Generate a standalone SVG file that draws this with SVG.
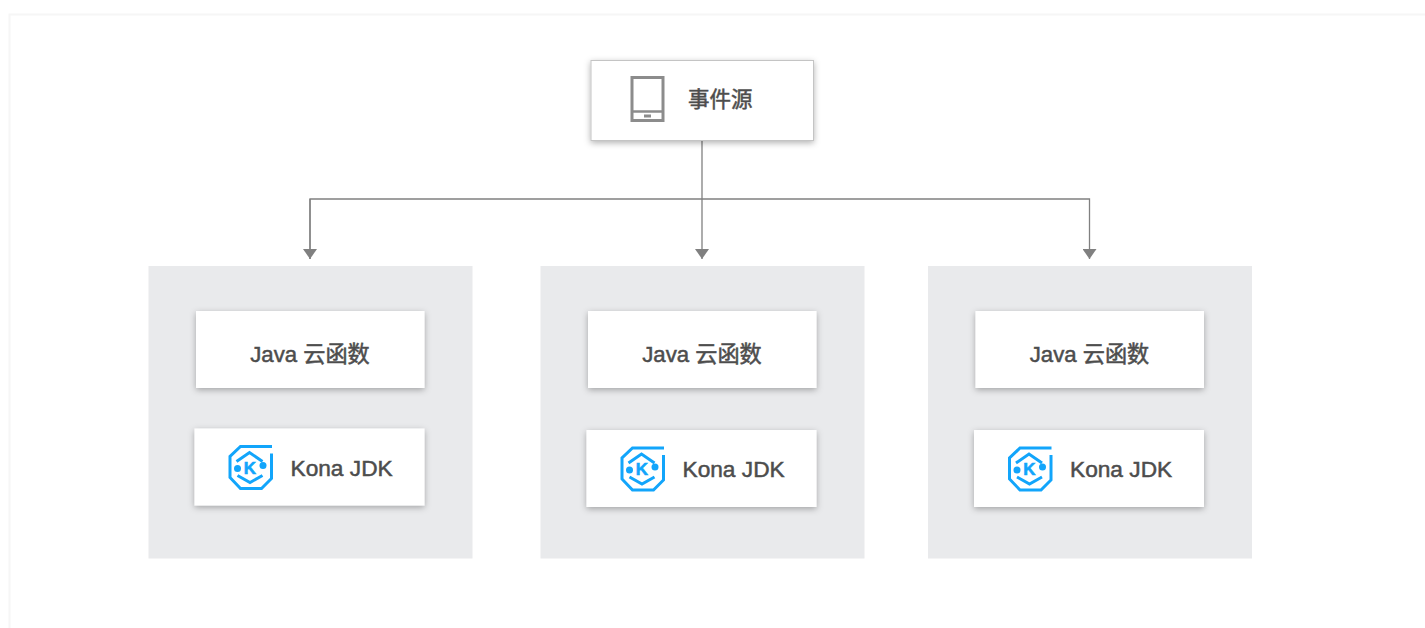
<svg xmlns="http://www.w3.org/2000/svg" width="1425" height="628" viewBox="0 0 1425 628">
<style>
.t{font-family:"Liberation Sans","Noto Sans CJK SC",sans-serif;font-size:22.200px;fill:#4d4d4d;stroke:#4d4d4d;stroke-width:0.5px}
.s{font-size:21.500px}
.j{font-size:22.700px}
.panel{fill:#e9eaec}
.card{fill:#fff;filter:url(#sh)}
.conn{fill:none;stroke:#808080;stroke-width:1.3}
.logo{fill:none;stroke:#12a5fb;stroke-width:3}
.dot{fill:#12a5fb}
.k{font-family:"Liberation Sans",sans-serif;font-weight:700;font-size:17px;fill:#12a5fb;stroke:#12a5fb;stroke-width:0.6px}
</style>
<defs>
<filter id="sh" x="-10%" y="-20%" width="120%" height="140%"><feDropShadow dx="0" dy="2" stdDeviation="3" flood-color="#000" flood-opacity="0.3"/></filter>
<marker id="ah" markerUnits="userSpaceOnUse" markerWidth="11" markerHeight="14" refX="10" refY="7" orient="auto"><path d="M0 0L10 7L0 14Z" fill="#808080"/></marker>
<g id="kona">
<path class="logo" d="M43.500 1H12L1.500 11V32L12 43H33L43 33V8"/>
<path class="logo" d="M8 16L21 7L34 16M34 30L21.500 37L9 30"/>
<circle class="dot" cx="9" cy="23" r="3.500"/><circle class="dot" cx="34.500" cy="20" r="3.500"/>
<text class="k" x="21.500" y="28" text-anchor="middle">K</text>
</g>
</defs>
<rect width="1425" height="628" fill="#fff"/>
<path d="M9.500 628V14.500H1425" fill="none" stroke="#f6f6f6" stroke-width="2"/>
<g id="connectors">
<path class="conn" d="M702 141V259"  marker-end="url(#ah)"/>
<path class="conn" d="M310 259V199H1089.500V259" marker-end="url(#ah)"/>
<path class="conn" d="M310 199V259" marker-end="url(#ah)"/>
</g>
<g id="source">
<rect x="591" y="60.500" width="222.500" height="80" fill="#fff" stroke="#c4c4c4" filter="url(#sh)"/>
<rect x="632" y="77.500" width="31" height="43" fill="none" stroke="#8c8c8c" stroke-width="3"/>
<path d="M632 111.500H663" stroke="#8c8c8c" stroke-width="2.500"/>
<rect x="644" y="114.500" width="7" height="3" fill="#8c8c8c"/>
<text class="t s" x="688" y="106.500">事件源</text>
</g>
<g id="panel1"><rect class="panel" x="148.500" y="266" width="324" height="292.500"/></g>
<g id="panel2"><rect class="panel" x="540.500" y="266" width="324" height="292.500"/></g>
<g id="panel3"><rect class="panel" x="928" y="266" width="324" height="292.500"/></g>
<g id="java1"><rect class="card" x="196" y="311" width="228.500" height="77"/><text class="t" x="310" y="362" text-anchor="middle">Java 云函数</text></g>
<g id="java2"><rect class="card" x="588" y="311" width="228.500" height="77"/><text class="t" x="702" y="362" text-anchor="middle">Java 云函数</text></g>
<g id="java3"><rect class="card" x="975.500" y="311" width="228.500" height="77"/><text class="t" x="1089.500" y="362" text-anchor="middle">Java 云函数</text></g>
<g id="kona1"><rect class="card" x="194.500" y="428.500" width="230" height="77"/><use href="#kona" x="228.500" y="445.500"/><text class="t j" x="290.500" y="475.500">Kona JDK</text></g>
<g id="kona2"><rect class="card" x="586.500" y="430" width="230" height="77"/><use href="#kona" x="620.500" y="447"/><text class="t j" x="682.500" y="477">Kona JDK</text></g>
<g id="kona3"><rect class="card" x="974" y="430" width="230" height="77"/><use href="#kona" x="1008" y="447"/><text class="t j" x="1070" y="477">Kona JDK</text></g>
</svg>
